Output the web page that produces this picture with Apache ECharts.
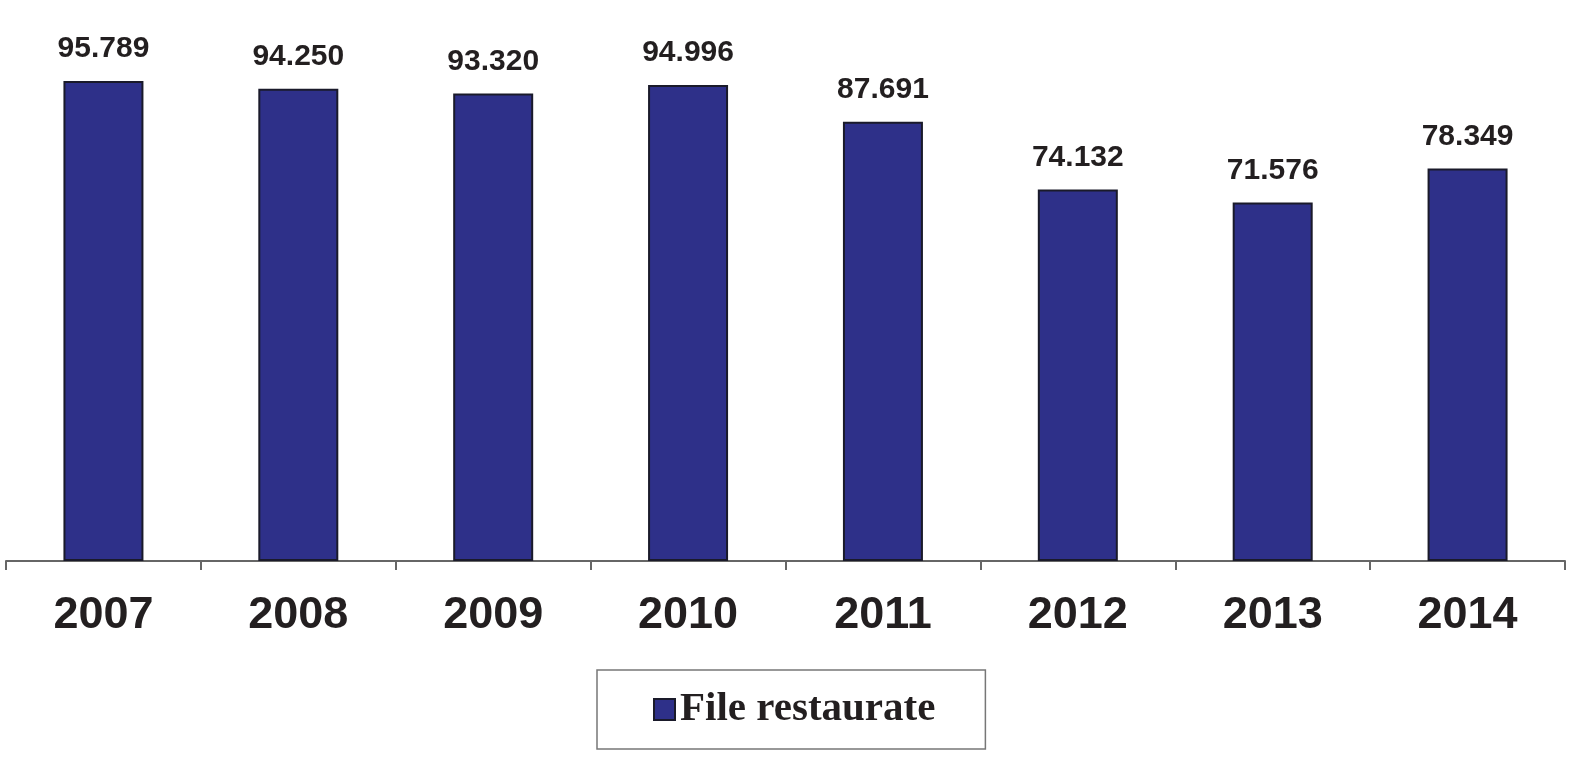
<!DOCTYPE html>
<html><head><meta charset="utf-8">
<script src="https://cdn.jsdelivr.net/npm/echarts@6/dist/echarts.min.js"></script>
<style>html,body{margin:0;padding:0;background:#fff}#c{width:1571px;height:782px}</style>
</head><body><div id="c"></div>
<script>
const categories = ['2007','2008','2009','2010','2011','2012','2013','2014'];
const fileRestaurate = [95.789, 94.250, 93.320, 94.996, 87.691, 74.132, 71.576, 78.349];
const seriesName = 'File restaurate';

const chart = echarts.init(document.getElementById('c'), null, {renderer:'canvas'});
chart.setOption({
  animation: false,
  backgroundColor: '#fff',
  grid: {left: 6, right: 6, top: 60, height: 501, containLabel: false},
  xAxis: {
    type: 'category', data: categories,
    axisLine: {lineStyle: {color: '#666', width: 2}},
    axisTick: {show: true, length: 9, lineStyle: {color: '#666', width: 2}},
    axisLabel: {margin: 32, fontFamily: 'Liberation Sans, Arial, sans-serif', fontWeight: 'bold', fontSize: 45, color: '#231f20'}
  },
  yAxis: {type: 'value', min: 0, max: 100, show: false, splitLine: {show: false}},
  legend: {
    data: [{name: seriesName, icon: 'rect'}], left: 597, top: 670,
    borderColor: '#777', borderWidth: 1.5, padding: [19, 50, 19, 56],
    itemWidth: 21, itemHeight: 21, itemGap: 9,
    textStyle: {fontFamily: 'Liberation Serif, Times New Roman, serif', fontWeight: 'bold', fontSize: 41, color: '#231f20'}
  },
  series: [{
    name: seriesName, type: 'bar', data: fileRestaurate, barWidth: 80,
    itemStyle: {color: '#2e3089', borderColor: '#1a1a2a', borderWidth: 2},
    label: {show: true, position: 'top', distance: 17,
      formatter: p => p.value.toFixed(3),
      fontFamily: 'Liberation Sans, Arial, sans-serif', fontWeight: 'bold', fontSize: 30, color: '#231f20'}
  }]
});
</script></body></html>
